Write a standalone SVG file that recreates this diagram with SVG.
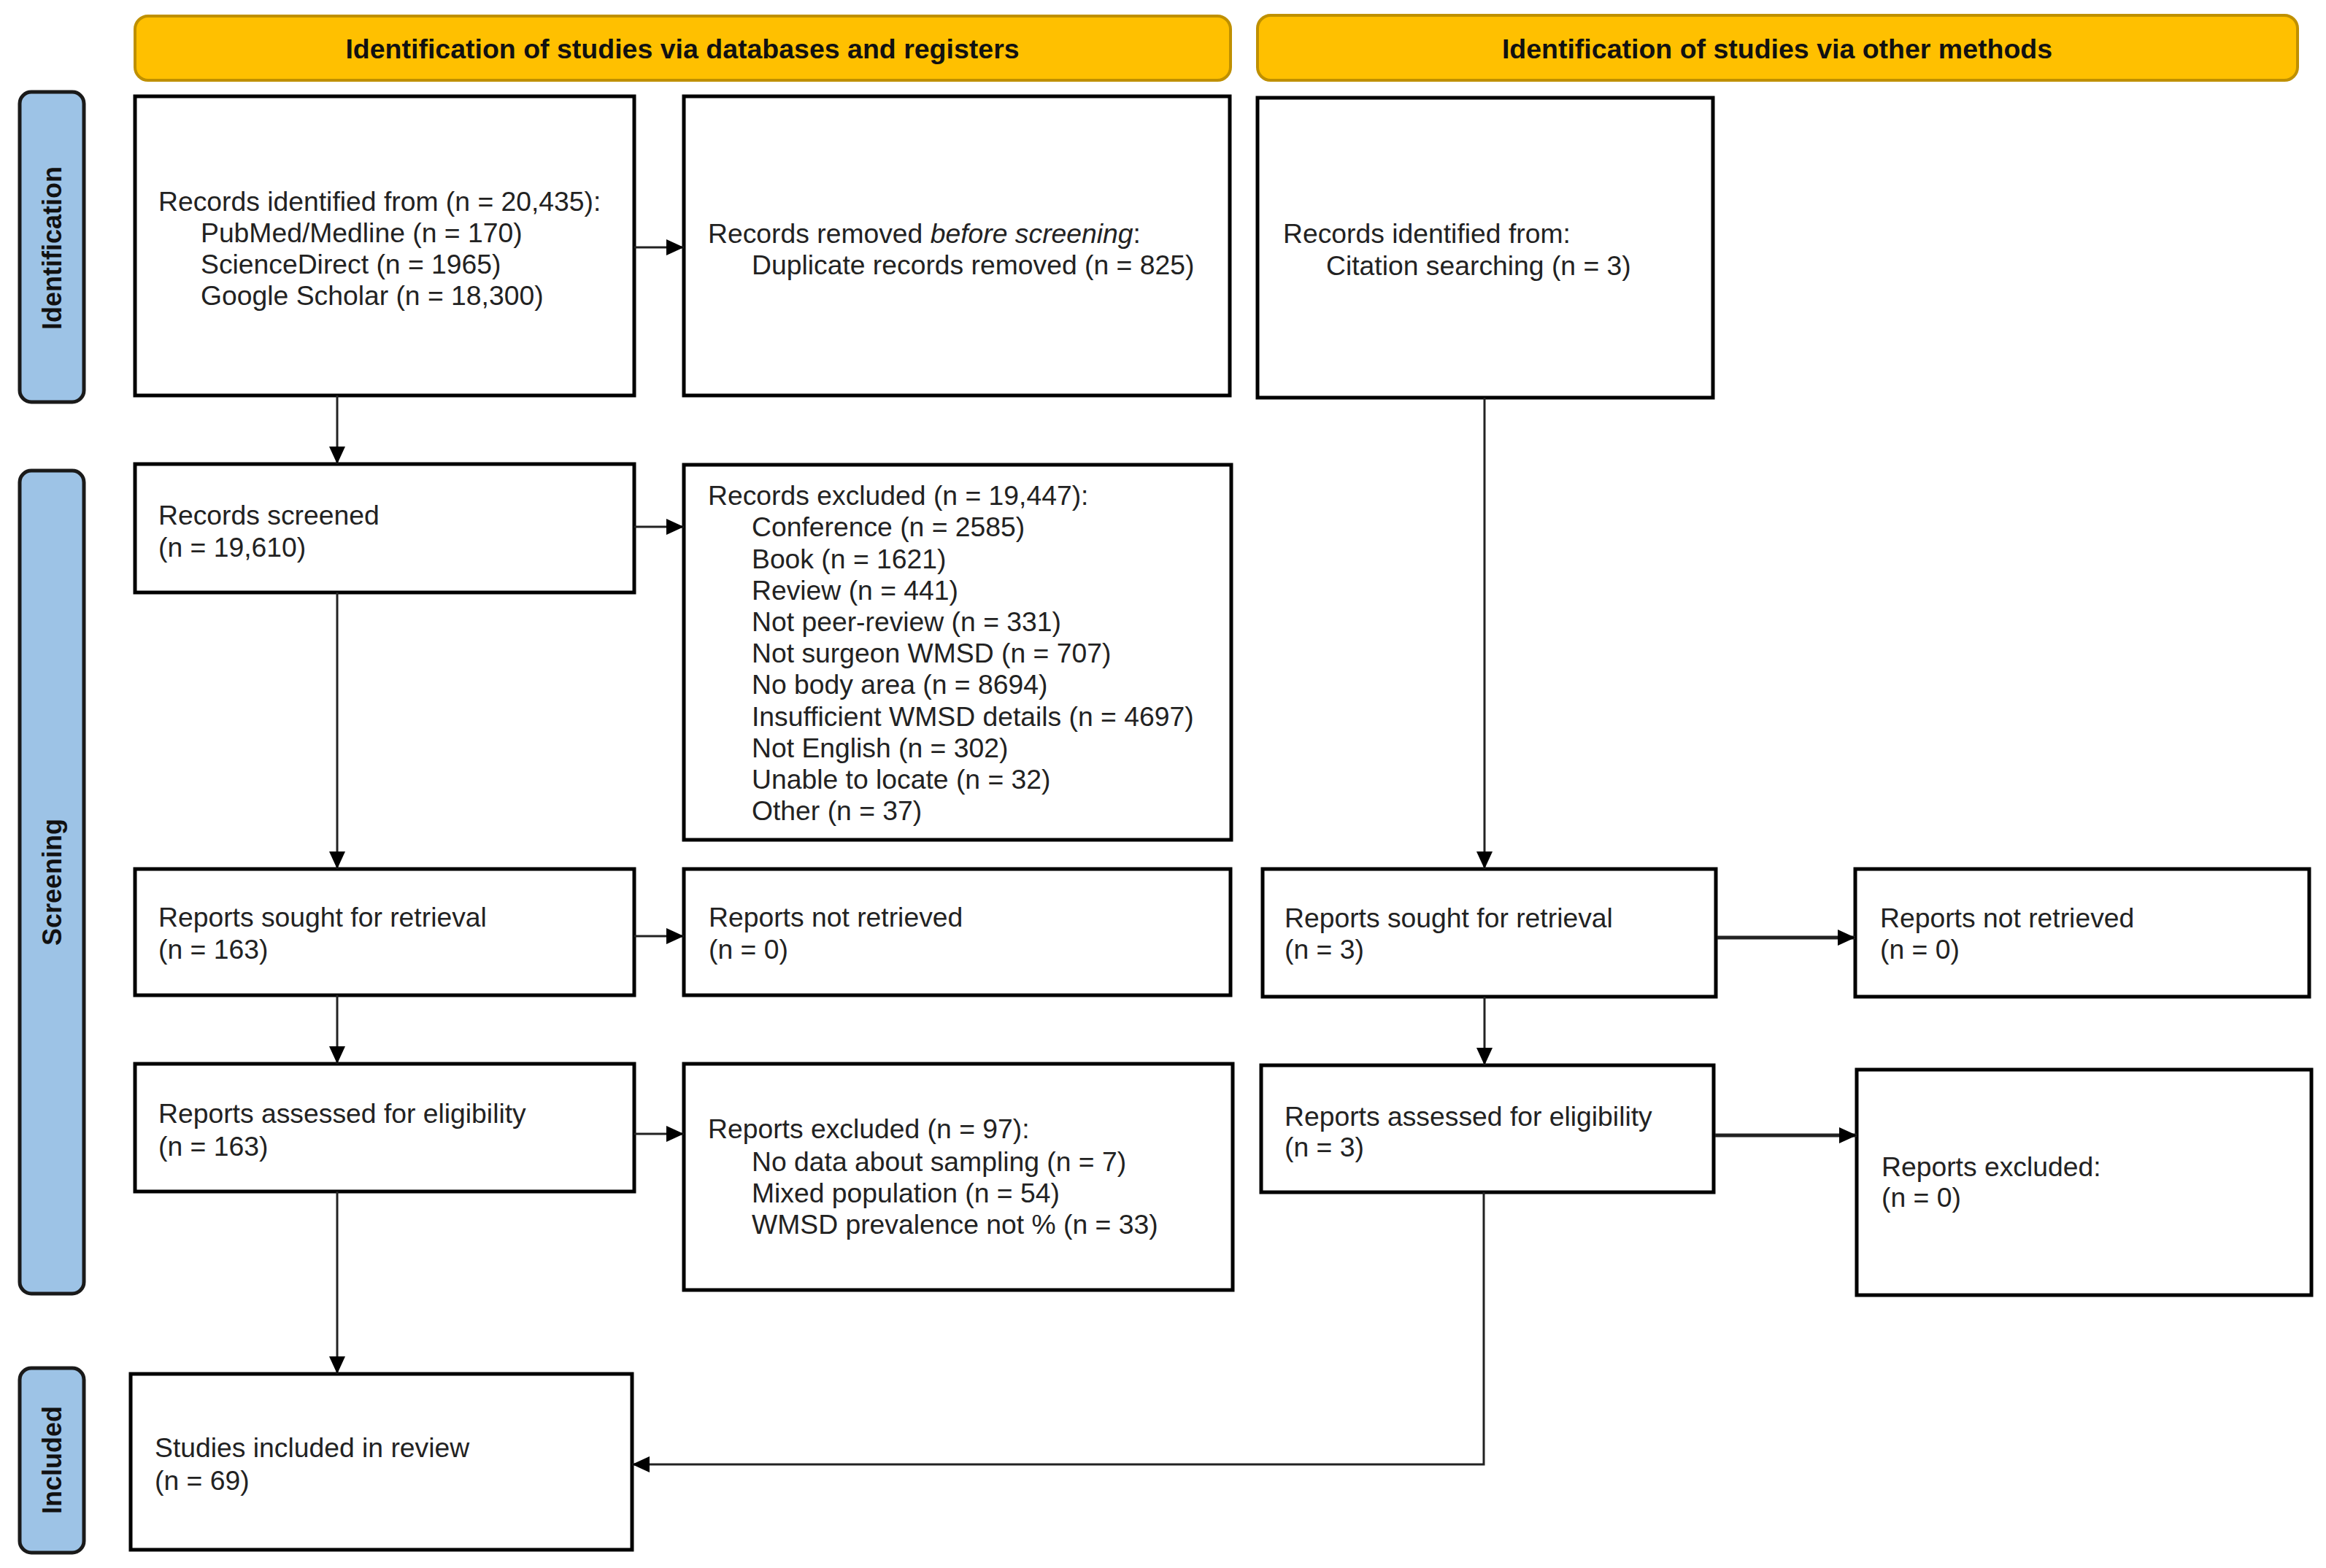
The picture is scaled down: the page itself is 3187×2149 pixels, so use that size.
<svg xmlns="http://www.w3.org/2000/svg" width="3187" height="2149" viewBox="0 0 3187 2149">
<defs>
<style>
.hdr{fill:#FFC000;stroke:#BF9000;stroke-width:4}
.hdrt{font-family:"Liberation Sans",Arial,sans-serif;font-weight:bold;font-size:37.5px;fill:#111;text-anchor:middle}
.side{fill:#9DC3E6;stroke:#1a1a1a;stroke-width:5}
.sidet{font-family:"Liberation Sans",Arial,sans-serif;font-weight:bold;font-size:36px;fill:#111;text-anchor:middle}
.box{fill:#fff;stroke:#000;stroke-width:5}
.t{font-family:"Liberation Sans",Arial,sans-serif;font-size:37.3px;fill:#222}
.c{fill:none;stroke:#222;stroke-width:3;marker-end:url(#ah)}
.cb{fill:none;stroke:#222;stroke-width:5;marker-end:url(#ah)}
</style>
<marker id="ah" markerUnits="userSpaceOnUse" markerWidth="26" markerHeight="24" refX="24" refY="11" orient="auto">
<path d="M0,0 L24,11 L0,22 z" fill="#000"/>
</marker>
</defs>
<rect width="3187" height="2149" fill="#fff"/>

<g id="header-db">
<rect class="hdr" x="185" y="22" width="1501" height="88" rx="18"/>
<text class="hdrt" x="935" y="80">Identification of studies via databases and registers</text>
</g>
<g id="header-other">
<rect class="hdr" x="1723" y="21" width="1425" height="89" rx="18"/>
<text class="hdrt" x="2435" y="80">Identification of studies via other methods</text>
</g>

<g id="phase-identification">
<rect class="side" x="27" y="126" width="88" height="425" rx="16"/>
<text class="sidet" transform="translate(84,340) rotate(-90)">Identification</text>
</g>
<g id="phase-screening">
<rect class="side" x="27" y="645" width="88" height="1128" rx="16"/>
<text class="sidet" transform="translate(84,1209) rotate(-90)">Screening</text>
</g>
<g id="phase-included">
<rect class="side" x="27" y="1875" width="88" height="253" rx="16"/>
<text class="sidet" transform="translate(84,2001) rotate(-90)">Included</text>
</g>

<g id="records-identified">
<rect class="box" x="185" y="132" width="684" height="410"/>
<text class="t" x="217" y="289">Records identified from (n = 20,435):</text>
<text class="t" x="275" y="332">PubMed/Medline (n = 170)</text>
<text class="t" x="275" y="375">ScienceDirect (n = 1965)</text>
<text class="t" x="275" y="418">Google Scholar (n = 18,300)</text>
</g>
<g id="records-removed">
<rect class="box" x="937" y="132" width="748" height="410"/>
<text class="t" x="970" y="333">Records removed <tspan font-style="italic">before screening</tspan>:</text>
<text class="t" x="1030" y="376">Duplicate records removed (n = 825)</text>
</g>
<g id="records-identified-other">
<rect class="box" x="1723" y="134" width="624" height="411"/>
<text class="t" x="1758" y="333">Records identified from:</text>
<text class="t" x="1817" y="377">Citation searching (n = 3)</text>
</g>

<g id="records-screened">
<rect class="box" x="185" y="636" width="684" height="176"/>
<text class="t" x="217" y="719">Records screened</text>
<text class="t" x="217" y="763">(n = 19,610)</text>
</g>
<g id="records-excluded">
<rect class="box" x="937" y="637" width="750" height="514"/>
<text class="t" x="970" y="692">Records excluded (n = 19,447):</text>
<text class="t" x="1030" y="735">Conference (n = 2585)</text>
<text class="t" x="1030" y="779">Book (n = 1621)</text>
<text class="t" x="1030" y="822">Review (n = 441)</text>
<text class="t" x="1030" y="865">Not peer-review (n = 331)</text>
<text class="t" x="1030" y="908">Not surgeon WMSD (n = 707)</text>
<text class="t" x="1030" y="951">No body area (n = 8694)</text>
<text class="t" x="1030" y="995">Insufficient WMSD details (n = 4697)</text>
<text class="t" x="1030" y="1038">Not English (n = 302)</text>
<text class="t" x="1030" y="1081">Unable to locate (n = 32)</text>
<text class="t" x="1030" y="1124">Other (n = 37)</text>
</g>

<g id="reports-sought">
<rect class="box" x="185" y="1191" width="684" height="173"/>
<text class="t" x="217" y="1270">Reports sought for retrieval</text>
<text class="t" x="217" y="1314">(n = 163)</text>
</g>
<g id="reports-not-retrieved">
<rect class="box" x="937" y="1191" width="749" height="173"/>
<text class="t" x="971" y="1270">Reports not retrieved</text>
<text class="t" x="971" y="1314">(n = 0)</text>
</g>
<g id="reports-sought-other">
<rect class="box" x="1730" y="1191" width="621" height="175"/>
<text class="t" x="1760" y="1271">Reports sought for retrieval</text>
<text class="t" x="1760" y="1314">(n = 3)</text>
</g>
<g id="reports-not-retrieved-other">
<rect class="box" x="2542" y="1191" width="622" height="175"/>
<text class="t" x="2576" y="1271">Reports not retrieved</text>
<text class="t" x="2576" y="1314">(n = 0)</text>
</g>

<g id="reports-assessed">
<rect class="box" x="185" y="1458" width="684" height="175"/>
<text class="t" x="217" y="1539">Reports assessed for eligibility</text>
<text class="t" x="217" y="1584">(n = 163)</text>
</g>
<g id="reports-excluded">
<rect class="box" x="937" y="1458" width="752" height="310"/>
<text class="t" x="970" y="1560">Reports excluded (n = 97):</text>
<text class="t" x="1030" y="1605">No data about sampling (n = 7)</text>
<text class="t" x="1030" y="1648">Mixed population (n = 54)</text>
<text class="t" x="1030" y="1691">WMSD prevalence not % (n = 33)</text>
</g>
<g id="reports-assessed-other">
<rect class="box" x="1728" y="1460" width="620" height="174"/>
<text class="t" x="1760" y="1543">Reports assessed for eligibility</text>
<text class="t" x="1760" y="1585">(n = 3)</text>
</g>
<g id="reports-excluded-other">
<rect class="box" x="2544" y="1466" width="623" height="309"/>
<text class="t" x="2578" y="1612">Reports excluded:</text>
<text class="t" x="2578" y="1654">(n = 0)</text>
</g>

<g id="studies-included">
<rect class="box" x="179" y="1883" width="687" height="241"/>
<text class="t" x="212" y="1997">Studies included in review</text>
<text class="t" x="212" y="2042">(n = 69)</text>
</g>

<g id="connectors">
<path class="c" d="M869,339 H937"/>
<path class="c" d="M462,542 V636"/>
<path class="c" d="M869,722 H937"/>
<path class="c" d="M462,812 V1191"/>
<path class="c" d="M869,1283 H937"/>
<path class="c" d="M462,1364 V1458"/>
<path class="c" d="M869,1554 H937"/>
<path class="c" d="M462,1633 V1883"/>
<path class="c" d="M2034,545 V1191"/>
<path class="cb" d="M2353,1285 H2542"/>
<path class="c" d="M2034,1366 V1460"/>
<path class="cb" d="M2350,1556 H2544"/>
<path class="c" d="M2033,1634 V2007 H866"/>
</g>
</svg>
